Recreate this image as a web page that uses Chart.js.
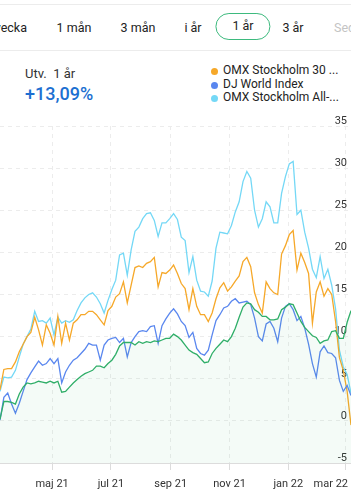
<!DOCTYPE html>
<html>
<head>
<meta charset="utf-8">
<script src="https://cdn.jsdelivr.net/npm/chart.js@4.4.0/dist/chart.umd.min.js"></script>
<style>
  html, body { margin: 0; padding: 0; background: #fff; }
  body { width: 351px; height: 500px; position: relative; overflow: hidden;
         font-family: Roboto, "Noto Sans", sans-serif; color: #222; }
  .tabs { position: absolute; left: 0; top: 4px; width: 351px; height: 45px;
          border-top: 1px solid #ececec; border-bottom: 1px solid #ececec; overflow: hidden; }
  .tab { position: absolute; top: 1px; line-height: 44px; font-size: 12.5px; white-space: nowrap;
         transform: translateX(-50%); }
  .tab.sel { top: 8px; height: 27px; line-height: 24px; box-sizing: border-box; padding: 0 16px;
             border: 1.5px solid #3dba7e; border-radius: 14px; }
  .head { position: absolute; left: 25px; font-size: 13px; color: #333; white-space: pre; }
  .big { position: absolute; left: 25px; font-size: 18px; font-weight: 500; color: #1c6fd1; }
  .leg { position: absolute; left: 210px; font-size: 12px; color: #222; line-height: 13.5px; }
  .leg div { position: relative; padding-left: 13px; white-space: nowrap; }
  .leg span { position: absolute; left: 1px; top: 4px; width: 7px; height: 7px; border-radius: 50%; }
  #wrap { position: absolute; left: 0; top: 116px; width: 351px; height: 384px; }
</style>
</head>
<body>
<div class="tabs">
  <div class="tab" style="left:auto;right:324px;transform:none">1 vecka</div>
  <div class="tab" style="left:74px">1 mån</div>
  <div class="tab" style="left:138px">3 mån</div>
  <div class="tab" style="left:193px">i år</div>
  <div class="tab sel" style="left:243px">1 år</div>
  <div class="tab" style="left:293px">3 år</div>
  <div class="tab" style="left:334px;transform:none;color:#c4c4c4">Sedan start</div>
</div>
<div class="head" style="top:66px">Utv.  1 år</div>
<div class="big" style="top:83px">+13,09%</div>
<div class="leg" style="top:64px">
  <div><span style="background:#f6a829"></span>OMX Stockholm 30 ...</div>
  <div><span style="background:#5a87ef"></span>DJ World Index</div>
  <div><span style="background:#74d8f6"></span>OMX Stockholm All-...</div>
</div>
<div id="wrap"><canvas id="chart"></canvas></div>
<script>
// ----------------------------
// Data (% change, one value every 4 days from 8 mar 2021)
// ----------------------------
const fund = [
  0.2, 2.3, 2.3, 2.2, 2.0, 3.2, 4.0, 4.5, 4.4, 4.5,
  4.7, 4.6, 4.5, 4.7, 4.5, 4.7, 3.4, 3.5, 4.0, 4.5,
  4.9, 5.3, 5.6, 5.8, 6.0, 6.5, 6.5, 6.3, 6.8, 7.2,
  7.9, 8.9, 9.3, 9.3, 9.3, 9.0, 9.4, 9.2, 9.4, 9.3,
  9.5, 9.4, 9.6, 9.8, 9.8, 10.3, 10.0, 9.6, 9.0, 8.4,
  8.1, 7.9, 7.4, 6.9, 7.0, 8.0, 8.6, 9.1, 9.6, 9.4,
  10.0, 11.0, 12.3, 13.5, 14.0, 13.9, 13.2, 12.9, 12.4, 12.4,
  12.0, 12.0, 12.1, 13.2, 13.5, 13.9, 13.8, 12.8, 11.8, 11.1,
  10.6, 10.1, 9.9, 9.2, 9.5, 9.6, 10.6, 10.7, 9.8, 9.8,
  11.7, 13.09
];
const omxs30 = [
  3.7, 6.1, 6.2, 6.2, 7.0, 8.2, 9.1, 10.0, 10.5, 12.3,
  10.8, 9.0, 11.4, 10.4, 9.0, 12.4, 9.2, 11.6, 9.6, 11.6,
  12.0, 12.6, 12.6, 13.0, 13.0, 12.6, 12.0, 11.4, 13.1, 13.6,
  14.7, 15.1, 16.5, 14.0, 16.1, 18.2, 18.4, 18.2, 18.7, 18.9,
  19.4, 15.9, 17.6, 17.5, 17.9, 18.5, 17.5, 16.3, 15.7, 13.2,
  15.7, 13.6, 12.6, 12.6, 11.8, 12.8, 14.5, 15.8, 16.4, 15.4,
  15.9, 16.6, 17.2, 18.9, 19.4, 18.3, 15.2, 13.8, 12.8, 16.5,
  15.7, 15.2, 15.0, 19.8, 20.8, 22.1, 22.6, 17.9, 19.9, 18.8,
  17.5, 11.6, 15.3, 16.5, 14.8, 15.7, 15.0, 11.8, 7.5, 6.0,
  3.5, -0.5
];
const djWorld = [
  0.1, 2.8, 3.3, 2.0, 0.9, 2.1, 3.5, 4.9, 5.7, 6.4,
  7.1, 6.6, 6.8, 7.4, 6.8, 7.4, 4.5, 5.8, 6.6, 7.2,
  7.5, 8.0, 8.5, 9.2, 9.0, 9.0, 7.2, 9.0, 9.6, 9.8,
  9.9, 9.3, 9.8, 7.6, 9.3, 10.0, 10.6, 10.7, 10.6, 11.2,
  11.3, 9.2, 11.3, 12.1, 12.8, 13.3, 12.7, 11.8, 11.3, 9.9,
  10.5, 8.6, 8.0, 7.8, 8.4, 10.2, 11.9, 12.6, 13.4, 13.6,
  14.2, 14.5, 14.0, 14.1, 14.2, 13.8, 12.2, 10.0, 9.5, 11.5,
  11.8, 11.0, 9.4, 12.2, 13.6, 13.9, 13.2, 11.9, 12.4, 11.0,
  9.1, 6.8, 5.2, 8.2, 8.9, 8.1, 8.0, 7.5, 4.8, 3.5,
  4.2, 3.0
];
const omxAll = [
  3.5, 5.2, 5.1, 5.2, 6.0, 7.6, 9.1, 10.0, 10.9, 13.0,
  11.8, 11.9, 11.6, 12.2, 10.2, 12.3, 11.6, 11.9, 11.7, 12.0,
  13.1, 14.0, 14.6, 15.0, 15.2, 14.7, 13.9, 12.8, 14.3, 15.6,
  16.7, 19.7, 19.9, 17.3, 20.3, 22.5, 23.0, 24.0, 24.6, 24.7,
  23.8, 21.9, 23.5, 23.5, 24.0, 24.6, 23.9, 21.8, 21.4, 17.6,
  19.5, 16.7, 15.4, 15.3, 14.8, 16.6, 20.5, 22.4, 22.3, 22.2,
  23.2, 24.8, 26.0, 28.4, 29.6, 28.8, 25.0, 23.0, 24.0, 26.0,
  25.4, 23.5, 23.5, 27.0, 29.0, 30.5, 30.8, 24.5, 25.0, 22.4,
  20.5, 18.0, 17.0, 19.5, 16.9, 18.0, 16.1, 13.3, 8.4, 6.4,
  5.5, 3.3
];
const days = fund.map((_, i) => i * 4);

// month ticks (day offset from start) and their labels
const tickDays = [54, 115, 177, 238, 299, 358];
const tickLabels = ["maj 21", "jul 21", "sep 21", "nov 21", "jan 22", "mar 22"];

// ----------------------------
// X labels, kept inside the canvas at the right edge
// ----------------------------
const xLabels = {
  id: "xLabels",
  afterDraw(chart) {
    const { ctx, chartArea, scales } = chart;
    ctx.save();
    ctx.font = "11px Roboto";
    ctx.fillStyle = "#333";
    ctx.textBaseline = "middle";
    tickDays.forEach((d, i) => {
      const w = ctx.measureText(tickLabels[i]).width;
      let left = scales.x.getPixelForValue(d) - w / 2;
      left = Math.min(left, chart.width - 3 - w);
      ctx.fillText(tickLabels[i], left, chartArea.bottom + 21);
    });
    ctx.restore();
  }
};

new Chart(document.getElementById("chart"), {
  type: "line",
  data: {
    labels: days,
    datasets: [
      { label: "Fond", data: fund, borderColor: "#2fae68", backgroundColor: "rgba(47,174,104,0.055)", fill: "start", order: 0 },
      { label: "DJ World Index", data: djWorld, borderColor: "#5a87ef", order: 1 },
      { label: "OMX Stockholm 30", data: omxs30, borderColor: "#f6a829", order: 2 },
      { label: "OMX Stockholm All-Share", data: omxAll, borderColor: "#74d8f6", order: 3 }
    ]
  },
  options: {
    responsive: true,
    maintainAspectRatio: false,
    animation: false,
    layout: { padding: { top: 10, bottom: 30, left: 0, right: 0 } },
    plugins: { legend: { display: false }, tooltip: { enabled: false } },
    elements: { point: { radius: 0 }, line: { borderWidth: 1.3, tension: 0 } },
    scales: {
      x: {
        type: "linear", min: 0, max: 364,
        afterBuildTicks: s => { s.ticks = tickDays.map(v => ({ value: v })); },
        ticks: { display: false },
        grid: { color: "#ececec", drawTicks: true, tickLength: 7, tickColor: "#dcdcdc", tickBorderDash: [] },
        border: { display: true, color: "#dcdcdc", dash: [4, 4] }
      },
      y: {
        position: "right", min: -5, max: 35,
        ticks: { stepSize: 5, mirror: true, padding: -4, labelOffset: -5,
                 font: { family: "Roboto", size: 11 }, color: "#333" },
        grid: { color: "#ececec", drawTicks: false },
        border: { display: false, dash: [4, 4] },
        afterFit: s => { s.width = 0; s.paddingTop = 0; s.paddingBottom = 0; }
      }
    }
  },
  plugins: [xLabels]
});
</script>
</body>
</html>
